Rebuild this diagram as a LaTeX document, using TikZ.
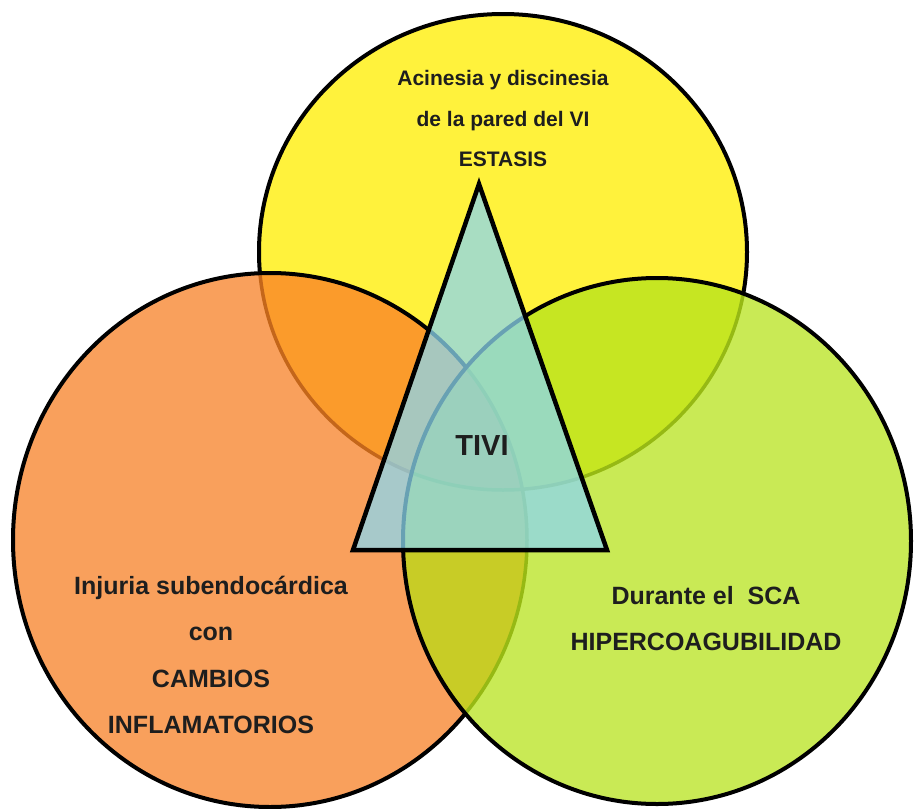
\documentclass[tikz,border=0pt]{standalone}
\usepackage{fontspec}
\setmainfont{Liberation Sans}
\definecolor{cY}{HTML}{FFF23C}
\definecolor{cO}{HTML}{F9A05C}
\definecolor{cYO}{HTML}{FB9B2B}
\definecolor{cG}{HTML}{C9EA55}
\definecolor{cYG}{HTML}{C6E622}
\definecolor{cOG}{HTML}{C8CC26}
\definecolor{cYOG}{HTML}{C8BE28}
\definecolor{lYO}{HTML}{C4661A}
\definecolor{lG}{HTML}{96B914}
\definecolor{cT}{RGB}{140,215,240}
\definecolor{txt}{HTML}{1E1E1E}
\def\Yel{(503,252) ellipse [x radius=244pt, y radius=238pt]}
\def\Oel{(270,540) ellipse [x radius=257pt, y radius=267pt]}
\def\Gel{(657,541) ellipse [x radius=254pt, y radius=263pt]}
\begin{document}
\begin{tikzpicture}[x=1pt,y=-1pt,
  edge/.style={draw=black, line width=4pt},
  inner/.style={line width=3.5pt},
  tri/.style={fill=cT, fill opacity=0.75, draw=black, draw opacity=1, line width=4.5pt, line join=miter},
  lbltop/.style={anchor=base, text=txt, font=\bfseries\fontsize{21}{21}\selectfont, inner sep=0pt},
  lblbig/.style={anchor=base, text=txt, font=\bfseries\fontsize{25}{25}\selectfont, inner sep=0pt},
  lbltivi/.style={anchor=base, text=txt, font=\bfseries\fontsize{29}{29}\selectfont, inner sep=0pt}]
\useasboundingbox (0,0) rectangle (914,809);
\fill[white] (0,0) rectangle (914,809);
% yellow circle
\fill[cY] \Yel;
\draw[edge] \Yel;
% orange circle
\fill[cO] \Oel;
\begin{scope}
  \clip \Oel;
  \fill[cYO] \Yel;
  \draw[inner, lYO] \Yel;
\end{scope}
\draw[edge] \Oel;
% green circle
\fill[cG] \Gel;
\begin{scope}
  \clip \Gel;
  \fill[cYG] \Yel;
  \fill[cOG] \Oel;
  \begin{scope}
    \clip \Yel;
    \fill[cYOG] \Oel;
  \end{scope}
  \draw[inner, lG] \Yel;
  \draw[inner, lG] \Oel;
\end{scope}
\draw[edge] \Gel;
% triangle
\coordinate (apex) at (479,184);
\coordinate (bl) at (353,550);
\coordinate (br) at (607,550);
\path[tri] (apex) -- (br) -- (bl) -- cycle;
% labels
\node[lbltop] (t1) at (503,85) {Acinesia y discinesia};
\node[lbltop] (t2) at (503,126) {de la pared del VI};
\node[lbltop] (t3) at (503,166) {ESTASIS};
\node[lbltivi] (tivi) at (482,455) {TIVI};
\node[lblbig] (o1) at (211,594) {Injuria subendocárdica};
\node[lblbig] (o2) at (211,640) {con};
\node[lblbig] (o3) at (211,687) {CAMBIOS};
\node[lblbig] (o4) at (211,733) {INFLAMATORIOS};
\node[lblbig] (g1) at (706,604) {Durante el\ \ SCA};
\node[lblbig] (g2) at (706,650) {HIPERCOAGUBILIDAD};
\end{tikzpicture}
\end{document}
